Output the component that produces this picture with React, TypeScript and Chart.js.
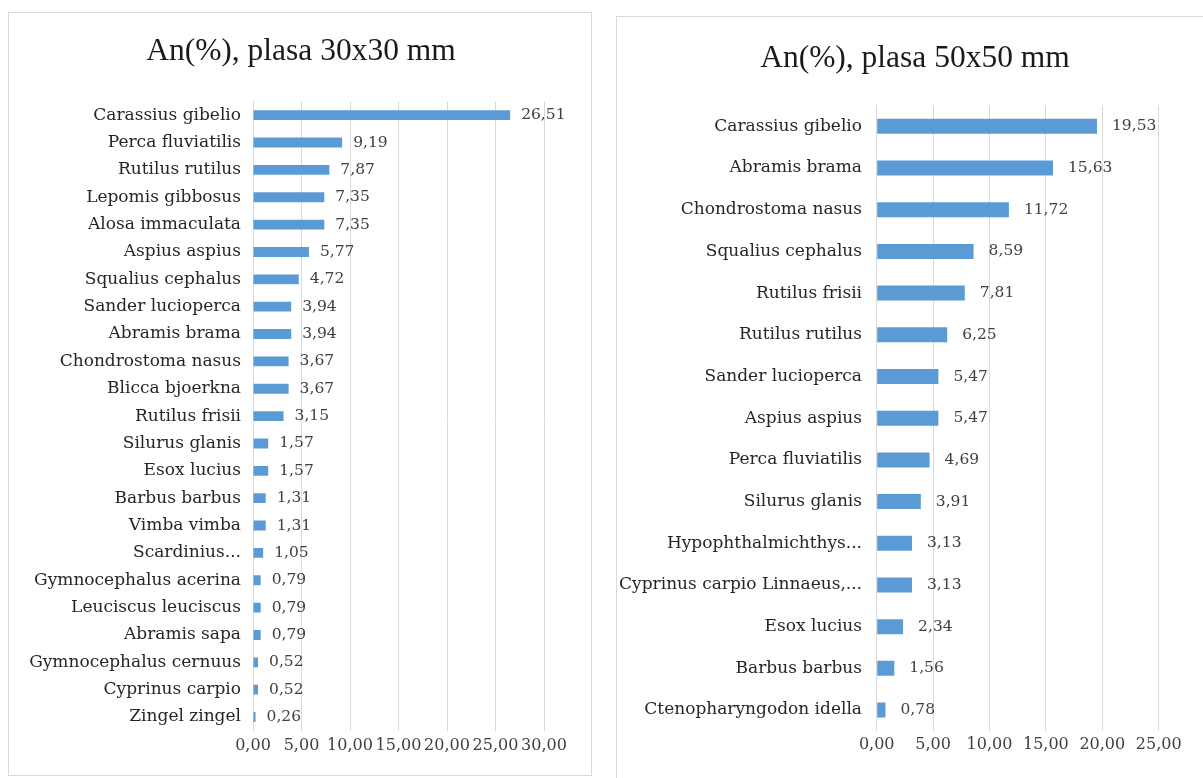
import React, { useEffect, useRef } from "react";
import { Chart, registerables } from "chart.js";

Chart.register(...registerables);

const leftTitle = "An(%), plasa 30x30 mm";
const leftCategories = [
  "Carassius gibelio",
  "Perca fluviatilis",
  "Rutilus rutilus",
  "Lepomis gibbosus",
  "Alosa immaculata",
  "Aspius aspius",
  "Squalius cephalus",
  "Sander lucioperca",
  "Abramis brama",
  "Chondrostoma nasus",
  "Blicca bjoerkna",
  "Rutilus frisii",
  "Silurus glanis",
  "Esox lucius",
  "Barbus barbus",
  "Vimba vimba",
  "Scardinius...",
  "Gymnocephalus acerina",
  "Leuciscus leuciscus",
  "Abramis sapa",
  "Gymnocephalus cernuus",
  "Cyprinus carpio",
  "Zingel zingel",
];
const leftValues = [
  26.51, 9.19, 7.87, 7.35, 7.35, 5.77, 4.72, 3.94, 3.94, 3.67, 3.67, 3.15, 1.57,
  1.57, 1.31, 1.31, 1.05, 0.79, 0.79, 0.79, 0.52, 0.52, 0.26,
];
const leftAxisMax = 30;
const leftAxisStep = 5;

const rightTitle = "An(%), plasa 50x50 mm";
const rightCategories = [
  "Carassius gibelio",
  "Abramis brama",
  "Chondrostoma nasus",
  "Squalius cephalus",
  "Rutilus frisii",
  "Rutilus rutilus",
  "Sander lucioperca",
  "Aspius aspius",
  "Perca fluviatilis",
  "Silurus glanis",
  "Hypophthalmichthys...",
  "Cyprinus carpio Linnaeus,...",
  "Esox lucius",
  "Barbus barbus",
  "Ctenopharyngodon idella",
];
const rightValues = [
  19.53, 15.63, 11.72, 8.59, 7.81, 6.25, 5.47, 5.47, 4.69, 3.91, 3.13, 3.13,
  2.34, 1.56, 0.78,
];
const rightAxisMax = 25;
const rightAxisStep = 5;

const fmt = (v: number) => v.toFixed(2).replace(".", ",");

const valueLabels = {
  id: "valueLabels",
  afterDatasetsDraw(chart: any, _args: any, opts: any) {
    const ctx = chart.ctx;
    const meta = chart.getDatasetMeta(0);
    const data = chart.data.datasets[0].data as number[];
    ctx.save();
    ctx.font = opts.font;
    ctx.fillStyle = opts.color;
    ctx.textAlign = "left";
    ctx.textBaseline = "middle";
    meta.data.forEach((bar: any, i: number) => {
      ctx.fillText(fmt(data[i]), bar.x + opts.offset, bar.y);
    });
    ctx.restore();
  },
};

type PanelProps = {
  categories: string[];
  values: number[];
  max: number;
  step: number;
  width: number;
  height: number;
  yWidth: number;
  xHeight: number;
  padRight: number;
  padTop: number;
  yPad: number;
  xPad: number;
  labelOffset: number;
};

function BarPanel(p: PanelProps) {
  const ref = useRef<HTMLCanvasElement | null>(null);
  useEffect(() => {
    if (!ref.current) return;
    const chart = new Chart(ref.current, {
      type: "bar",
      data: {
        labels: p.categories,
        datasets: [
          {
            data: p.values,
            backgroundColor: "#5B9BD5",
            borderWidth: 0,
            barPercentage: 0.9,
            categoryPercentage: 0.4,
          },
        ],
      },
      options: {
        indexAxis: "y",
        responsive: false,
        animation: false,
        devicePixelRatio: 1,
        layout: { padding: { left: 0, right: p.padRight, top: p.padTop, bottom: 0 } },
        plugins: {
          legend: { display: false },
          tooltip: { enabled: false },
          title: { display: false },
          valueLabels: {
            font: "15.5px 'DejaVu Serif', serif",
            color: "#404040",
            offset: p.labelOffset,
          },
        } as any,
        scales: {
          x: {
            min: 0,
            max: p.max,
            ticks: {
              stepSize: p.step,
              autoSkip: false,
              maxRotation: 0,
              minRotation: 0,
              padding: p.xPad,
              color: "#404040",
              font: { family: "'DejaVu Serif', serif", size: 16 },
              callback: (v: any) => fmt(Number(v)),
            },
            grid: { color: "#d9d9d9", drawTicks: false, lineWidth: 1 },
            border: { display: false },
            afterFit: (scale: any) => {
              scale.height = p.xHeight;
            },
          },
          y: {
            ticks: {
              autoSkip: false,
              padding: p.yPad,
              color: "#262626",
              font: { family: "'DejaVu Serif', serif", size: 17 },
            },
            grid: { display: false, drawTicks: false },
            border: { display: true, color: "#d9d9d9", width: 1 },
            afterFit: (scale: any) => {
              scale.width = p.yWidth;
            },
          },
        },
      },
      plugins: [valueLabels as any],
    });
    return () => chart.destroy();
  }, []);
  return (
    <canvas
      ref={ref}
      width={p.width}
      height={p.height}
      style={{ display: "block", width: p.width, height: p.height }}
    />
  );
}

const titleStyle = (centerX: number, centerY: number): React.CSSProperties => ({
  position: "fixed",
  left: centerX - 300,
  top: centerY - 16,
  width: 600,
  height: 32,
  lineHeight: "32px",
  textAlign: "center",
  whiteSpace: "nowrap",
  fontFamily: "'Liberation Serif', serif",
  fontSize: 31.5,
  color: "#1a1a1a",
});

export default function App() {
  return (
    <div>
      <div
        style={{
          position: "fixed",
          left: 8,
          top: 12,
          width: 584,
          height: 764,
          border: "1px solid #d9d9d9",
          boxSizing: "border-box",
          background: "#fff",
        }}
      >
        <BarPanel
          categories={leftCategories}
          values={leftValues}
          max={leftAxisMax}
          step={leftAxisStep}
          width={582}
          height={762}
          yWidth={244}
          xHeight={44.3}
          padRight={47}
          padTop={88.5}
          yPad={12}
          xPad={6}
          labelOffset={11}
        />
      </div>
      <div
        style={{
          position: "fixed",
          left: 616,
          top: 16,
          width: 587,
          height: 762,
          borderTop: "1px solid #d9d9d9",
          borderLeft: "1px solid #d9d9d9",
          boxSizing: "border-box",
          background: "#fff",
        }}
      >
        <BarPanel
          categories={rightCategories}
          values={rightValues}
          max={rightAxisMax}
          step={rightAxisStep}
          width={586}
          height={761}
          yWidth={259.7}
          xHeight={47.1}
          padRight={44.3}
          padTop={88.5}
          yPad={14.7}
          xPad={4.2}
          labelOffset={15}
        />
      </div>
      <div style={titleStyle(301, 50)}>{leftTitle}</div>
      <div style={titleStyle(915, 57)}>{rightTitle}</div>
    </div>
  );
}
